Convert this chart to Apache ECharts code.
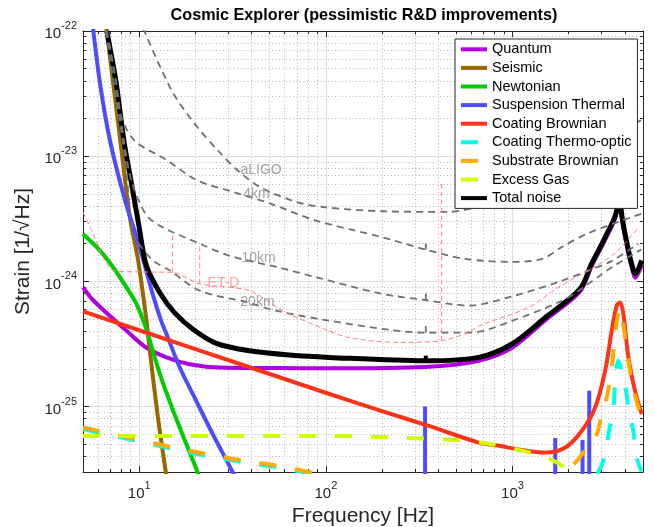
<!DOCTYPE html>
<html><head><meta charset="utf-8">
<script src="https://cdn.jsdelivr.net/npm/echarts@6/dist/echarts.min.js"></script>
<style>html,body{margin:0;padding:0;background:#fff}#c{width:654px;height:527px}</style>
</head><body><div id="c"></div>
<script>
const FONT = '"Liberation Sans", Arial, Helvetica, sans-serif';

// ---- data: [frequency (Hz), strain (1/sqrt(Hz))] ----
const quantum = [[5,8.95e-25],[5.7,7.0e-25],[8.9,3.82e-25],[10.9,2.96e-25],[14,2.47e-25],[18.6,2.18e-25],[27,2.05e-25],[56,2.03e-25],[100,2.02e-25],[340,2.07e-25],[659,2.32e-25],[993,2.95e-25],[1500,4.9e-25],[2300,8.32e-25],[2650,1.32e-24],[3130,2.14e-24],[3614,3.55e-24],[3715,1.0e-23],[3820,3.55e-24],[4180,1.66e-24],[4446,1.15e-24],[4540,1.07e-24],[4920,1.35e-24]];
const seismic = [[6.6,1.2e-22],[8.04,1.11e-23],[8.91,3.25e-24],[9.87,1.47e-24],[10.94,4.85e-25],[11.4,2.79e-25],[12.6,8.17e-26],[13.9,2.96e-26],[14.5,2.0e-26]];
const newtonian = [[5,2.39e-24],[6.17,1.76e-24],[7.26,1.29e-24],[8.55,8.95e-25],[9.68,6.59e-25],[10.8,4.37e-25],[12.9,1.82e-25],[15.2,9.25e-26],[17.9,5.0e-26],[20.6,2.96e-26],[22,2.2e-26]];
const suspension = [[5.6,1.2e-22],[6.17,3.8e-23],[6.97,1.34e-23],[8.4,4.43e-24],[9.9,2.04e-24],[11.75,8.13e-25],[13.1,4.85e-25],[14,3.79e-25],[16.5,2.05e-25],[20.2,1.11e-25],[24.8,6.01e-26],[31.8,2.96e-26],[36,2.0e-26]];
const suspensionSpikes = [[340,1.0e-25],[1694,5.6e-26],[2372,5.4e-26],[2576,1.34e-25]];
const coatingBrownian = [[5,5.75e-25],[20,2.88e-25],[50,1.82e-25],[104.5,1.26e-25],[200,9.2e-26],[356,7.0e-26],[659,5.15e-26],[811,4.9e-26],[1219,4.42e-26],[1499,4.29e-26],[1918,4.7e-26],[2351,6.4e-26],[2772,9.82e-26],[3134,1.93e-25],[3401,4.04e-25],[3617,6.4e-25],[3770,6.79e-25],[3926,5.48e-25],[4177,2.47e-25],[4530,1.34e-25],[4920,8.69e-26]];
const coatingThermoOptic = [[5,6.6e-26],[9.47,5.35e-26],[18.6,4.3e-26],[35.2,3.62e-26],[55,3.27e-26],[85,2.88e-26],[150,2.4e-26],[2000,1.5e-26],[2890,3.02e-26],[3137,4.17e-26],[3268,6.03e-26],[3474,9.82e-26],[3542,1.61e-25],[3685,2.32e-25],[3843,1.93e-25],[4084,1.26e-25],[4168,9.82e-26],[4437,6.4e-26],[4624,3.91e-26],[4920,3.02e-26]];
const substrateBrownian = [[5,6.79e-26],[9.47,5.5e-26],[18.6,4.43e-26],[35.2,3.72e-26],[55,3.36e-26],[85,2.96e-26],[150,2.5e-26],[700,2.0e-26],[1500,2.4e-26],[1840,2.96e-26],[2168,3.56e-26],[2500,4.7e-26],[2825,6.01e-26],[3005,8.69e-26],[3198,1.18e-25],[3401,2.05e-25],[3600,4.6e-25],[3770,6.03e-25],[3950,4.2e-25],[4345,1.61e-25],[4920,7.9e-26]];
const excessGas = [[5,5.83e-26],[100,5.83e-26],[238,5.65e-26],[536,5.37e-26],[747,5.04e-26],[1218,4.32e-26],[1594,3.8e-26],[1918,3.2e-26],[2050,2.6e-26]];
const totalNoise = [[6.7,1.0e-22],[7.5,4.0e-23],[8.3,1.3e-23],[9.1,6.0e-24],[10.0,2.7e-24],[10.9,1.35e-24],[12.9,8.1e-25],[15.5,5.6e-25],[19.4,4.15e-25],[25.9,3.2e-25],[39,2.79e-25],[63.7,2.58e-25],[104,2.47e-25],[340,2.32e-25],[659,2.47e-25],[993,3.16e-25],[1500,5.15e-25],[2300,8.71e-25],[2650,1.38e-24],[3130,2.24e-24],[3614,3.72e-24],[3715,1.2e-23],[3820,3.72e-24],[4180,1.76e-24],[4446,1.22e-24],[4540,1.15e-24],[4920,1.47e-24]];
const totalBump = [[343,2.32e-25,2.55e-25]];

const aLIGO = [[10.5,1.05e-22],[14.9,3.36e-23],[19.8,1.82e-23],[26.4,1.11e-23],[33.7,7.69e-24],[45,5.6e-24],[70,4.3e-24],[100,3.9e-24],[200,3.63e-24],[450,3.59e-24],[800,4.37e-24],[1500,7.08e-24],[3000,1.26e-23],[4900,1.95e-23]];
const ce4km = [[6.7,1.0e-22],[7.5,4.0e-23],[7.9,2.2e-23],[9.4,1.34e-23],[14,9.33e-24],[20.5,6.4e-24],[33,5.1e-24],[50,4.2e-24],[88.5,3.06e-24],[201,2.25e-24],[340,1.8e-24],[560,1.51e-24],[1000,1.43e-24],[1440,1.51e-24],[1860,1.9e-24],[2500,2.4e-24],[4900,3.47e-24]];
const ce10km = [[6.7,1.0e-22],[7.5,4.0e-23],[8.3,1.3e-23],[9.1,6.3e-24],[10.9,3.4e-24],[13.4,2.7e-24],[21.1,2.0e-24],[30.5,1.6e-24],[56,1.29e-24],[88.5,1.08e-24],[201,7.94e-25],[340,7.1e-25],[580,6.4e-25],[1000,7.6e-25],[1800,1.0e-24],[2550,1.22e-24],[3390,1.45e-24],[4720,2.0e-24]];
const ce20km = [[6.6,1.0e-22],[8.3,1.1e-23],[9.28,2.4e-24],[10.2,1.9e-24],[11.86,1.47e-24],[14.6,1.22e-24],[21.1,8.43e-25],[38,6.8e-25],[54,5.83e-25],[100,4.9e-25],[220,4.1e-25],[340,3.89e-25],[600,3.89e-25],[1000,4.85e-25],[1840,7.0e-25],[2260,8.43e-25],[3390,1.29e-24],[4900,1.8e-24]];
const ceSpikes = [[343,1.8e-24,2.0e-24],[343,7.1e-25,8.0e-25],[343,3.89e-25,4.4e-25]];
const etD = [[5,3.56e-24],[5.68,2.4e-24],[6.41,1.56e-24],[7.3,1.22e-24],[10,1.19e-24],[15.1,1.18e-24],[21.1,9.55e-25],[39,8.43e-25],[58.6,5.83e-25],[88.5,4.43e-25],[133,3.56e-25],[246,3.25e-25],[417,3.36e-25],[580,3.91e-25],[659,4.4e-25],[1218,6.19e-25],[1760,8.95e-25],[3400,1.6e-24],[4720,2.69e-24]];
const etDSpikes = [[15.1,1.18e-24,2.4e-24],[21.1,9.55e-25,1.93e-24],[417,3.36e-25,6.05e-24]];
const spikeFloor = 1e-27;

const curveLabels = [
  {text:'aLIGO', f:45, h:7.7e-24, color:'#8a8a8a'},
  {text:'4km', f:42.5, h:5.0e-24, color:'#8a8a8a'},
  {text:'10km', f:43.6, h:1.52e-24, color:'#8a8a8a'},
  {text:'20km', f:43, h:6.8e-25, color:'#8a8a8a'},
  {text:'ET-D', f:28.3, h:9.6e-25, color:'#ff8c8c'}
];

// ---- ticks ----
const xMajor = [10,100,1000];
const xMinor = [6,7,8,9,20,30,40,50,60,70,80,90,200,300,400,500,600,700,800,900,2000,3000,4000];
const yMajor = [1e-25,1e-24,1e-23,1e-22];
const yMinor = [4e-26,5e-26,6e-26,7e-26,8e-26,9e-26,2e-25,3e-25,4e-25,5e-25,6e-25,7e-25,8e-25,9e-25,2e-24,3e-24,4e-24,5e-24,6e-24,7e-24,8e-24,9e-24,2e-23,3e-23,4e-23,5e-23,6e-23,7e-23,8e-23,9e-23];
const xRange = [5, 5000];
const yRange = [3e-26, 1e-22];

const legendNames = ['Quantum','Seismic','Newtonian','Suspension Thermal','Coating Brownian','Coating Thermo-optic','Substrate Brownian','Excess Gas','Total noise'];

// strain values are plotted on a decade (log10) value axis, since the
// numbers are too small for ECharts' tick rounding on a log axis
const L = Math.log10;
function pts(d) { return d.map(function (p) { return [p[0], L(p[1])]; }); }

const AX = '#262626';
const DASH = [17, 19];
const GDASH = [7, 5];

function line(name, data, color, width, dash, extra) {
  return Object.assign({
    type: 'line', name: name, data: pts(data), symbol: 'none', showSymbol: false,
    smooth: 0.3, clip: true, silent: true, animation: false,
    color: color,
    lineStyle: {color: color, width: width, type: dash || 'solid', cap: 'butt', join: 'round'},
    itemStyle: {color: color}
  }, extra || {});
}
function spikes(name, list, color, width, dash) {
  return list.map(function (s) {
    const base = s.length > 2 ? s[1] : spikeFloor;
    const top = s.length > 2 ? s[2] : s[1];
    return line(name, [[s[0], base], [s[0], top]], color, width, dash, {smooth: false});
  });
}
const rich = {
  b: {fontSize: 15, fontFamily: FONT, color: AX, lineHeight: 21, verticalAlign: 'bottom'},
  s: {fontSize: 11, fontFamily: FONT, color: AX, lineHeight: 12, verticalAlign: 'top'}
};
function supX(v) { return '{b|10}{s|' + Math.round(Math.log10(v)) + '}'; }
function supY(v) { return '{b|10}{s|' + Math.round(v) + '}'; }

const xBase = {type: 'log', logBase: 10, min: xRange[0], max: xRange[1], gridIndex: 0, silent: true};
const yBase = {type: 'value', min: L(yRange[0]), max: L(yRange[1]), gridIndex: 0, silent: true, scale: true};

function axes(base, pos, major, minor, fmt, labelOpt, withGrid) {
  return [
    Object.assign({}, base, {
      position: pos,
      axisLine: {show: true, onZero: false, lineStyle: {color: AX, width: 1}},
      axisTick: {show: true, inside: true, length: 6, customValues: major, lineStyle: {color: AX, width: 1}},
      axisLabel: fmt ? Object.assign({show: true, customValues: major, formatter: fmt, rich: rich, hideOverlap: false}, labelOpt) : {show: false},
      splitLine: {show: withGrid, lineStyle: {color: '#dedede', width: 1}},
      minorTick: {show: false}, minorSplitLine: {show: false}
    }),
    Object.assign({}, base, {
      position: pos,
      axisLine: {show: false, onZero: false},
      axisTick: {show: true, inside: true, length: 3, customValues: minor, lineStyle: {color: AX, width: 1}},
      axisLabel: {show: false},
      splitLine: {show: withGrid, lineStyle: {color: '#b4b4b4', width: 1, type: [1, 2.5]}},
      minorTick: {show: false}, minorSplitLine: {show: false}
    })
  ];
}

const xAxes = axes(xBase, 'bottom', xMajor, xMinor, supX, {margin: 8}, true)
  .concat(axes(xBase, 'top', xMajor, xMinor, null, null, false));
const yAxes = axes(yBase, 'left', yMajor.map(L), yMinor.map(L), supY, {margin: 6}, true)
  .concat(axes(yBase, 'right', yMajor.map(L), yMinor.map(L), null, null, false));
xAxes[0].name = 'Frequency [Hz]';
xAxes[0].nameLocation = 'middle';
xAxes[0].nameGap = 31;
xAxes[0].nameTextStyle = {fontSize: 21, fontFamily: FONT, color: AX};
yAxes[0].name = 'Strain [1/\u221AHz]';
yAxes[0].nameLocation = 'middle';
yAxes[0].nameGap = 46;
yAxes[0].nameTextStyle = {fontSize: 21, fontFamily: FONT, color: AX};

let series = [
  line('Quantum', quantum, '#b000e0', 4),
  line('Seismic', seismic, '#996600', 4),
  line('Newtonian', newtonian, '#00cc00', 4),
  line('Suspension Thermal', suspension, '#4d4dff', 4)
].concat(spikes('Suspension Thermal', suspensionSpikes, '#4d4dff', 4))
.concat([
  line('Coating Brownian', coatingBrownian, '#ff331a', 4),
  line('Coating Thermo-optic', coatingThermoOptic, '#00ffe6', 4, DASH),
  line('Substrate Brownian', substrateBrownian, '#ffaa00', 4, DASH),
  line('Excess Gas', excessGas, '#ccff00', 4, DASH),
  line('Total noise', totalNoise, '#000000', 5)
])
.concat(spikes('Total noise', totalBump, '#000000', 4))
.concat([
  line('aLIGO', aLIGO, '#707070', 1.8, GDASH),
  line('CE 4km', ce4km, '#707070', 1.8, GDASH),
  line('CE 10km', ce10km, '#707070', 1.8, GDASH),
  line('CE 20km', ce20km, '#707070', 1.8, GDASH)
])
.concat(spikes('CE spikes', ceSpikes, '#707070', 1.8))
.concat([line('ET-D', etD, '#ff8080', 1, [5, 3])])
.concat(spikes('ET-D', etDSpikes, '#ff8080', 1, [5, 3]));

series.push({
  type: 'scatter', name: 'labels', silent: true, animation: false, symbolSize: 0,
  data: curveLabels.map(function (l) {
    return {value: [l.f, L(l.h)], label: {show: true, position: 'inside', formatter: l.text, color: l.color, fontSize: 14, fontFamily: FONT}};
  }),
  itemStyle: {color: 'rgba(0,0,0,0)'}, z: 3
});

const chart = echarts.init(document.getElementById('c'), null, {renderer: 'canvas'});
chart.setOption({
  animation: false,
  backgroundColor: '#ffffff',
  textStyle: {fontFamily: FONT},
  title: {text: 'Cosmic Explorer (pessimistic R&D improvements)', left: 364, top: 8, textAlign: 'center', padding: 0,
    textStyle: {fontSize: 16.2, fontWeight: 'bold', color: '#000', fontFamily: FONT}},
  grid: {left: 83, right: 11, top: 31, bottom: 55, containLabel: false, outerBoundsMode: 'none'},
  xAxis: xAxes,
  yAxis: yAxes,
  legend: {
    data: legendNames, orient: 'vertical', left: 455, top: 39, padding: [1, 6, 1, 4],
    itemGap: 0, itemWidth: 26, itemHeight: 10, selectedMode: false,
    backgroundColor: '#ffffff', borderColor: AX, borderWidth: 1, z: 20,
    itemStyle: {opacity: 0},
    lineStyle: {width: 4},
    textStyle: {fontSize: 14.5, fontFamily: FONT, color: '#000', lineHeight: 18.6}
  },
  series: series
});
</script></body></html>
